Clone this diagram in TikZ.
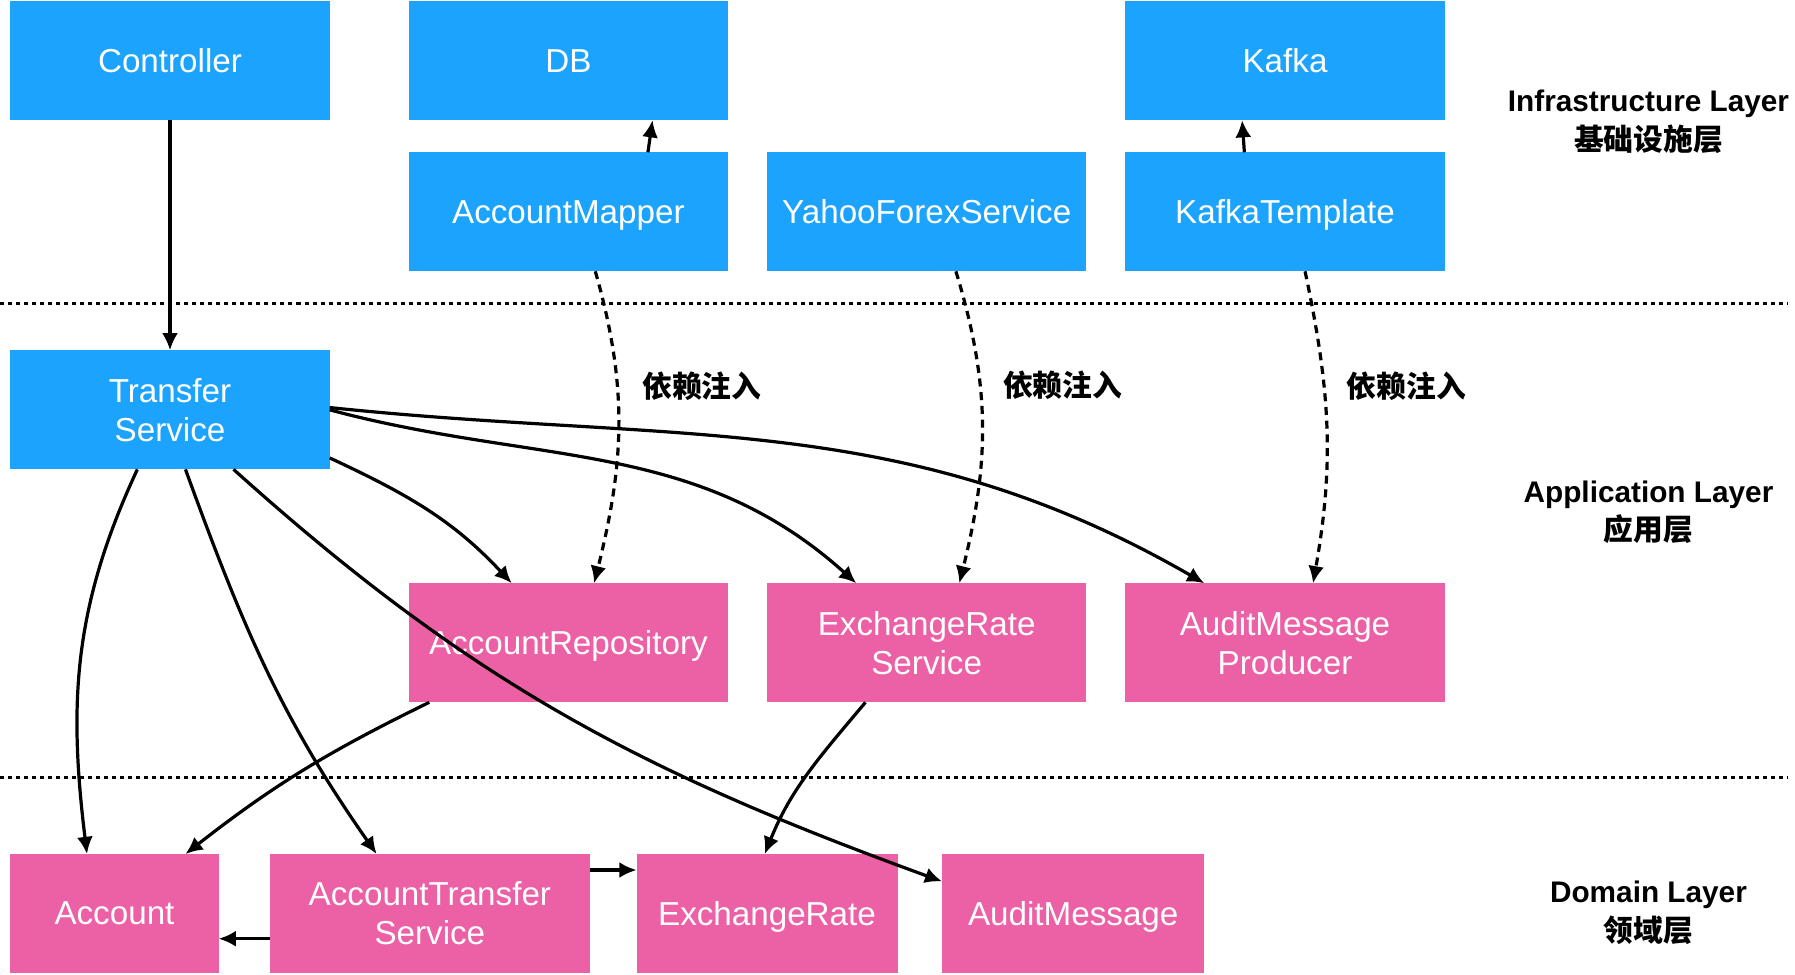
\documentclass[tikz,border=0pt]{standalone}
\usepackage{fontspec}
\setmainfont{Liberation Sans}
\newfontfamily\cjk{Noto Sans CJK SC}
\usetikzlibrary{positioning,arrows.meta}

\definecolor{infracolor}{RGB}{27,163,253}
\definecolor{appcolor}{RGB}{236,96,165}

\begin{document}
\begin{tikzpicture}[x=0.5pt, y=0.5pt, line width=1.4pt,
		main/.style = {rectangle, outer sep=0pt, minimum width=139.5pt, minimum height=52pt, text=white, align=center, font=\fontsize{14.5}{17}\selectfont},
		single/.style = {text depth=0pt},
		infra/.style = {main, fill=infracolor},
		app/.style = {main, fill=appcolor},
		layer/.style = {align=center, font=\bfseries\fontsize{13}{17}\selectfont},
		inject/.style = {font=\cjk\bfseries\fontsize{13}{15}\selectfont},
		arr/.style = {-{Latex[length=7.5pt, width=7pt]}},
		dep/.style = {arr, dash pattern=on 3.5pt off 2.5pt},
		sep/.style = {line width=1.1pt, dash pattern=on 1.75pt off 1.75pt}]
		\useasboundingbox (0,0) rectangle (1568,-851);

		\node[infra, single] (Controller) at (148.5,-53) {Controller};
		\node[infra, single] (DB) at (496.5,-53) {DB};
		\node[infra, single] (AccountMapper) [below=14pt of DB] {AccountMapper};
		\node[infra, single] (YahooForex) [right=17pt of AccountMapper] {YahooForexService};
		\node[infra, single] (KafkaTemplate) [right=17pt of YahooForex] {KafkaTemplate};
		\node[infra, single] (Kafka) [above=14pt of KafkaTemplate] {Kafka};

		\node[infra] (TransferService) at (148.5,-358) {Transfer\\Service};
		\node[app, single] (AccountRepo) at (496.5,-561.5) {AccountRepository};
		\node[app] (RateService) [right=17pt of AccountRepo] {ExchangeRate\\Service};
		\node[app] (AuditProducer) [right=17pt of RateService] {AuditMessage\\Producer};

		\node[app, single, minimum width=91pt] (Account) at (100,-798) {Account};
		\node[app] (AccountTransfer) [right=22.5pt of Account] {AccountTransfer\\Service};
		\node[app, single, minimum width=114pt] (ExchangeRate) [right=20.5pt of AccountTransfer] {ExchangeRate};
		\node[app, single, minimum width=114.5pt] (AuditMessage) [right=19.5pt of ExchangeRate] {AuditMessage};

		\node[layer] (InfraLayer) at (1440,-106) {Infrastructure Layer\\{\cjk\bfseries 基础设施层}};
		\node[layer] (AppLayer) at (1440,-447.5) {Application Layer\\{\cjk\bfseries 应用层}};
		\node[layer] (DomainLayer) at (1440,-797.5) {Domain Layer\\{\cjk\bfseries 领域层}};

		\draw[sep] (0,-265) -- (1562,-265);
		\draw[sep] (0,-679) -- (1562,-679);

		\draw[arr] (Controller) -- (TransferService);
		\draw[arr] ([xshift=34.75pt]AccountMapper.north) -- ([xshift=36.75pt]DB.south);
		\draw[arr] ([xshift=-17.75pt]KafkaTemplate.north) -- ([xshift=-18.75pt]Kafka.south);

		\draw[dep] ([xshift=11.75pt]AccountMapper.south) to[out=-74, in=76] node[inject, pos=0.36, right=7pt] {依赖注入} ([xshift=11.25pt]AccountRepo.north);
		\draw[dep] ([xshift=12.75pt]YahooForex.south) to[out=-73, in=76] node[inject, pos=0.36, right=6pt] {依赖注入} ([xshift=14.25pt]RateService.north);
		\draw[dep] ([xshift=8.75pt]KafkaTemplate.south) to[out=-78, in=80] node[inject, pos=0.36, right=6pt] {依赖注入} ([xshift=12.25pt]AuditProducer.north);

		\draw[arr] ([yshift=-21pt]TransferService.east) to[out=-25, in=133] ([xshift=-24.75pt]AccountRepo.north);
		\draw[arr] ([yshift=0pt]TransferService.east) to[out=-15, in=138] ([xshift=-30.75pt]RateService.north);
		\draw[arr] ([yshift=1pt]TransferService.east) to[out=-6, in=150] ([xshift=-35.25pt]AuditProducer.north);
		\draw[arr] ([xshift=-14.25pt]TransferService.south) to[out=-115, in=97] ([xshift=-12pt]Account.north);
		\draw[arr] ([xshift=6.75pt]TransferService.south) to[out=-70, in=125] ([xshift=-23.25pt]AccountTransfer.north);
		\draw[arr] ([xshift=27.75pt]TransferService.south) to[out=-42, in=160] ([yshift=14pt]AuditMessage.west);

		\draw[arr] ([xshift=-60.75pt]AccountRepo.south) to[out=-154, in=38] ([xshift=31pt]Account.north);
		\draw[arr] ([xshift=-26.75pt]RateService.south) to[out=-130, in=68] ([xshift=-1pt]ExchangeRate.north);
		\draw[arr] ([yshift=19pt]AccountTransfer.east) -- ([yshift=19pt]ExchangeRate.west);
		\draw[arr] ([yshift=-11pt]AccountTransfer.west) -- ([yshift=-11pt]Account.east);
	\end{tikzpicture}
\end{document}
